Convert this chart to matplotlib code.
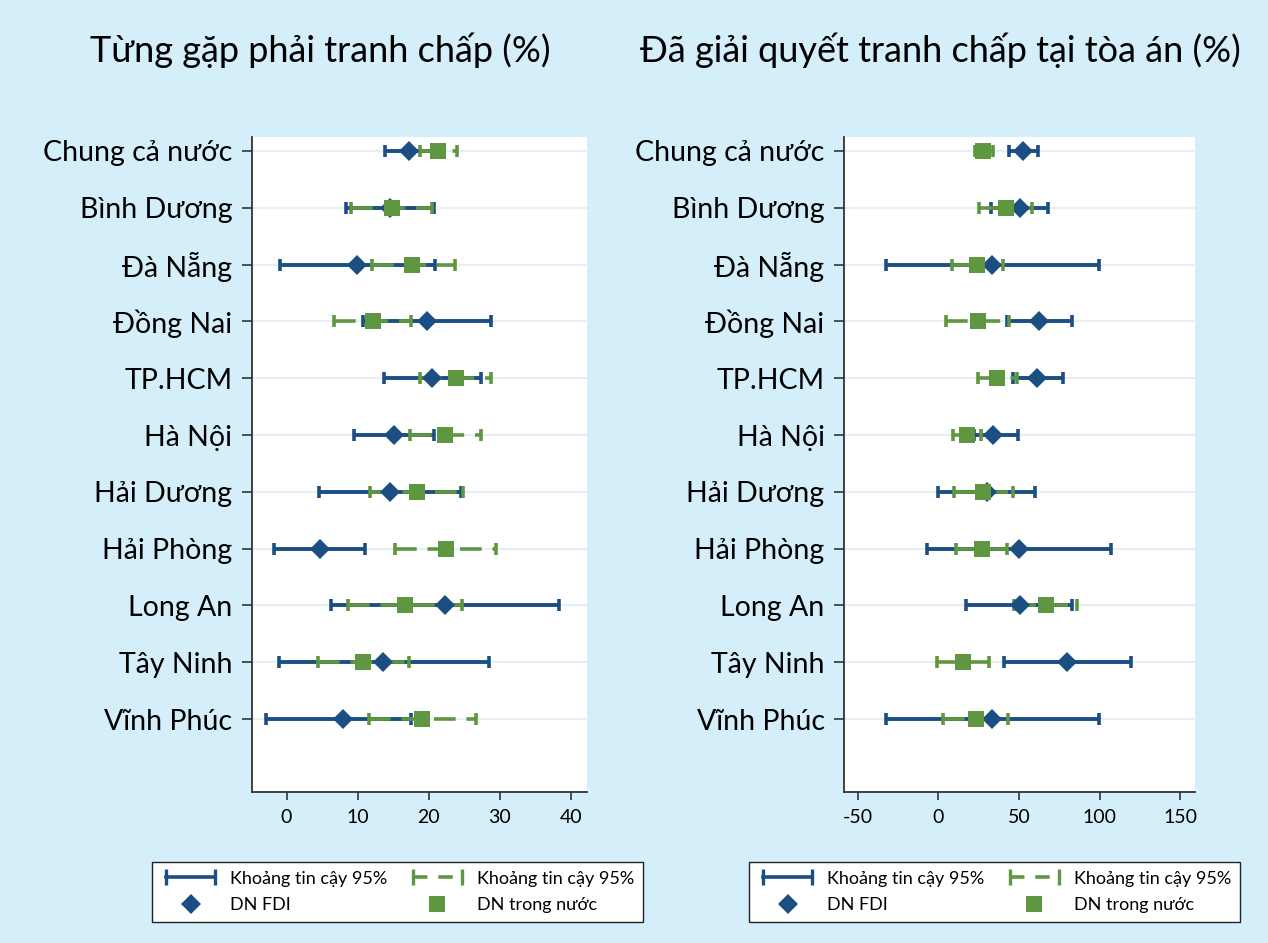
import numpy as np
import matplotlib
matplotlib.use('Agg')
import matplotlib.pyplot as plt
from matplotlib.lines import Line2D
from matplotlib.legend_handler import HandlerLine2D

plt.rcParams['font.family'] = ['Lato', 'Noto Sans', 'DejaVu Sans']

# data
regions = ['Chung cả nước', 'Bình Dương', 'Đà Nẵng', 'Đồng Nai', 'TP.HCM', 'Hà Nội',
           'Hải Dương', 'Hải Phòng', 'Long An', 'Tây Ninh', 'Vĩnh Phúc']

# panel 1: Từng gặp phải tranh chấp (%)
fdi_dispute = [17.2, 14.6, 9.9, 19.8, 20.5, 15.1, 14.6, 4.7, 22.3, 13.6, 8.0]
fdi_dispute_lo = [13.8, 8.4, -0.9, 10.7, 13.7, 9.5, 4.5, -1.8, 6.2, -1.1, -2.9]
fdi_dispute_hi = [20.7, 20.8, 20.9, 28.8, 27.4, 20.7, 24.5, 11.0, 38.3, 28.4, 17.5]
dom_dispute = [21.3, 14.8, 17.7, 12.1, 23.8, 22.3, 18.3, 22.4, 16.6, 10.7, 19.1]
dom_dispute_lo = [18.7, 9.0, 12.0, 6.7, 18.7, 17.3, 11.7, 15.2, 8.7, 4.4, 11.6]
dom_dispute_hi = [23.9, 20.5, 23.7, 17.5, 28.8, 27.3, 24.8, 29.5, 24.7, 17.2, 26.6]

# panel 2: Đã giải quyết tranh chấp tại tòa án (%)
fdi_court = [52.7, 50.3, 33.5, 62.5, 61.4, 34.1, 30.0, 50.0, 50.3, 79.6, 33.5]
fdi_court_lo = [44.0, 32.5, -32.4, 42.4, 46.1, 22.0, 0.0, -6.8, 17.2, 40.8, -32.4]
fdi_court_hi = [62.0, 67.9, 99.3, 82.7, 77.5, 49.6, 60.0, 106.9, 83.1, 119.5, 99.3]
dom_court = [27.9, 42.0, 24.2, 24.4, 36.6, 18.0, 27.9, 26.9, 66.8, 15.1, 23.2]
dom_court_lo = [22.8, 25.4, 8.5, 4.8, 24.4, 9.3, 9.7, 11.0, 47.0, -1.0, 3.1]
dom_court_hi = [34.0, 57.9, 39.9, 43.9, 49.0, 26.3, 46.5, 42.4, 86.2, 31.4, 43.0]

titles = ['Từng gặp phải tranh chấp (%)', 'Đã giải quyết tranh chấp tại tòa án (%)']
xticks_1 = [0, 10, 20, 30, 40]
xticks_2 = [-50, 0, 50, 100, 150]

BLUE = '#1b4f83'
GREEN = '#5f9640'
BG = '#d4eefa'


def draw_panel(ax, fdi, fdi_lo, fdi_hi, dom, dom_lo, dom_hi, xlim, xticks):
    y = np.arange(1, len(regions) + 1)
    fdi = np.array(fdi)
    dom = np.array(dom)
    for yy in y:
        ax.axhline(yy, color='#e6eff3', lw=1.6, zorder=0)
    ax.errorbar(fdi, y, xerr=[fdi - np.array(fdi_lo), np.array(fdi_hi) - fdi],
                fmt='none', ecolor=BLUE, elinewidth=2.8, capsize=4.5, capthick=2.6, zorder=2)
    eb2 = ax.errorbar(dom, y, xerr=[dom - np.array(dom_lo), np.array(dom_hi) - dom],
                      fmt='none', ecolor=GREEN, elinewidth=2.6, capsize=4.5, capthick=2.6, zorder=3)
    eb2[2][0].set_linestyle((0, (6, 3)))
    ax.plot(fdi, y, 'D', color=BLUE, ms=10.5, mew=0, zorder=4)
    ax.plot(dom, y, 's', color=GREEN, ms=11.5, mew=0, zorder=5)

    ax.set_xlim(*xlim)
    ax.set_ylim(12.285, 0.754)
    ax.set_yticks(y)
    ax.set_yticklabels(regions, fontsize=20.5)
    ax.set_xticks(xticks)
    ax.set_xticklabels([str(t) for t in xticks], fontsize=14)
    ax.tick_params(axis='y', length=7, width=1.2, color='#333333', pad=7)
    ax.tick_params(axis='x', length=6, width=1.2, color='#333333', pad=6)
    for s in ['top', 'right']:
        ax.spines[s].set_visible(False)
    for s in ['left', 'bottom']:
        ax.spines[s].set_color('#333333')
        ax.spines[s].set_linewidth(1.3)
    ax.set_facecolor('white')

    h_ci1 = Line2D([], [], color=BLUE, lw=2.6, marker='|', ms=11, mew=2.4)
    h_ci2 = Line2D([], [], color=GREEN, lw=2.6, ls=(0, (4, 3)), marker='|', ms=11, mew=2.4)
    h_fdi = Line2D([], [], color=BLUE, marker='D', ms=10, ls='none', mew=0)
    h_dom = Line2D([], [], color=GREEN, marker='s', ms=11, ls='none', mew=0)
    hm = {h_ci1: HandlerLine2D(numpoints=2), h_ci2: HandlerLine2D(numpoints=2),
          h_fdi: HandlerLine2D(numpoints=1), h_dom: HandlerLine2D(numpoints=1)}
    return [h_ci1, h_fdi, h_ci2, h_dom], hm


fig = plt.figure(figsize=(12.68, 9.43), dpi=100)
fig.patch.set_facecolor(BG)

ax1 = fig.add_axes([0.1985, 0.1601, 0.2642, 0.6946])
ax2 = fig.add_axes([0.6656, 0.1601, 0.2768, 0.6946])

handles, hm = draw_panel(ax1, fdi_dispute, fdi_dispute_lo, fdi_dispute_hi,
                         dom_dispute, dom_dispute_lo, dom_dispute_hi, (-4.9, 42.2), xticks_1)
labels = ['Khoảng tin cậy 95%', 'DN FDI', 'Khoảng tin cậy 95%', 'DN trong nước']
leg_kw = dict(ncol=2, fontsize=13, frameon=True, fancybox=False, edgecolor='#222222',
              framealpha=1, borderpad=0.5, handlelength=3.3, columnspacing=1.1,
              labelspacing=0.6, handletextpad=0.55, loc='center')
l1 = fig.legend(handles, labels, handler_map=hm, bbox_to_anchor=(397.5 / 1268, 1 - 892 / 943), **leg_kw)
l1.get_frame().set_linewidth(1.0)

handles, hm = draw_panel(ax2, fdi_court, fdi_court_lo, fdi_court_hi,
                         dom_court, dom_court_lo, dom_court_hi, (-58.5, 159), xticks_2)
l2 = fig.legend(handles, labels, handler_map=hm, bbox_to_anchor=(994.5 / 1268, 1 - 892 / 943), **leg_kw)
l2.get_frame().set_linewidth(1.0)

fig.text(320 / 1268, 1 - 50 / 943, titles[0], fontsize=26, ha='center', va='center')
fig.text(940 / 1268, 1 - 50 / 943, titles[1], fontsize=26, ha='center', va='center')

fig.savefig('out.png', dpi=100, facecolor=BG)
